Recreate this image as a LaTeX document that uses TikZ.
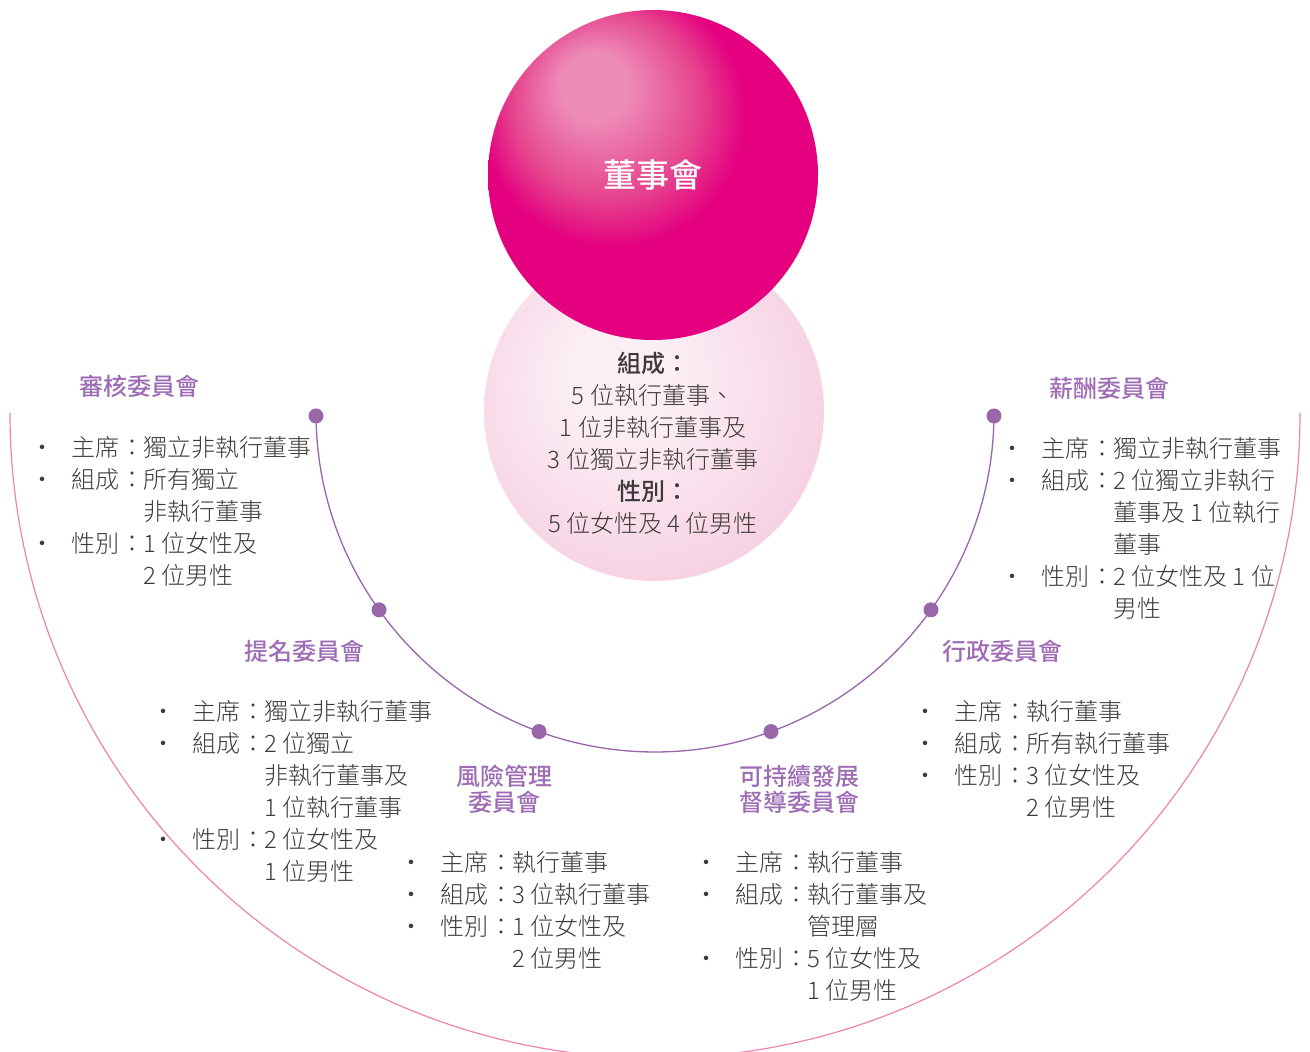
\documentclass[tikz,border=0pt]{standalone}
\usepackage{fontspec}
\setmainfont{Noto Sans CJK TC}[UprightFont=* Light, BoldFont=* Medium]
\usepackage{tikz}
\usetikzlibrary{positioning,shapes}
\pgfdeclarelayer{bg}
\pgfsetlayers{bg,main}

\definecolor{bodytext}{HTML}{3E3A39}
\definecolor{headpurple}{HTML}{9E6CB4}
\definecolor{dotpurple}{HTML}{9966AA}
\definecolor{pinkring}{HTML}{EE82B0}
\definecolor{ballhi}{HTML}{EE8CB9}
\definecolor{ballsoft}{HTML}{E6468F}
\definecolor{ballmid}{HTML}{E4007F}
\definecolor{balldark}{HTML}{A8006C}
\definecolor{pinklight}{HTML}{FCEEF5}
\definecolor{pinkedge}{HTML}{F6CFE2}

\pgfdeclareradialshading{boardball}{\pgfqpoint{-10bp}{15bp}}{%
color(0bp)=(ballhi); color(5bp)=(ballhi); color(14bp)=(ballsoft);
color(20bp)=(ballmid); color(34bp)=(ballmid); color(44bp)=(balldark);
color(50bp)=(balldark)}
\pgfdeclareradialshading{softpink}{\pgfqpoint{-6bp}{6bp}}{%
color(0bp)=(pinklight); color(8bp)=(pinklight); color(30bp)=(pinkedge);
color(50bp)=(pinkedge)}

\newcommand{\bul}{\makebox[14.5pt][l]{\makebox[0pt]{•}}}
\newcommand{\lab}[1]{\makebox[36pt][l]{#1\hspace{0.6pt}：}}

\begin{document}
\begin{tikzpicture}[x=0.5pt,y=0.5pt]
\tikzstyle{every node}=[font=\fontsize{12}{16}\selectfont, text=bodytext, inner sep=0pt]
\tikzstyle{heading}=[font=\fontsize{12}{13}\selectfont\bfseries, text=headpurple, align=center]
\tikzstyle{facts}=[anchor=base west, align=left]
\tikzstyle{dot}=[circle, fill=dotpurple, minimum size=7.5pt]

\useasboundingbox (0,0) rectangle (1310,-1052);

\coordinate (centre) at (655,-413);

% outer ring
\draw[pinkring, line width=0.6pt] ([shift={(180:322.5pt)}]centre)
  arc[start angle=180, end angle=360, radius=322.5pt];

% board of directors
\node[circle, minimum size=170pt, shade, shading=softpink] (backdrop) at (654,-411) {};
\node[circle, minimum size=165pt, shade, shading=boardball, text=white,
font=\fontsize{16.5}{20}\selectfont\bfseries] (board) at (653,-175) {董事會};

\node[align=center] (boardinfo) at (653,-443.5) {
\textbf{組成：}\\
5 位執行董事、\\
1 位非執行董事及\\
3 位獨立非執行董事\\
\textbf{性別：}\\
5 位女性及 4 位男性
};

% committees on the inner ring
\node[dot] (audit dot) at ([shift={(180.5:169.5pt)}]centre) {};
\node[dot] (nomination dot) at ([shift={(215.5:169.5pt)}]centre) {};
\node[dot] (risk dot) at ([shift={(250:169.5pt)}]centre) {};
\node[dot] (sustain dot) at ([shift={(290:169.5pt)}]centre) {};
\node[dot] (executive dot) at ([shift={(324.5:169.5pt)}]centre) {};
\node[dot] (remuneration dot) at ([shift={(359.5:169.5pt)}]centre) {};

\begin{pgfonlayer}{bg}
\draw[dotpurple, line width=0.65pt] (audit dot.center)
  arc[start angle=180.5, end angle=359.5, radius=169.5pt];
\end{pgfonlayer}

\node[heading] (audit) at (139.5,-386) {審核委員會};
\node[facts] (audit facts) at (42,-457) {\begin{tabular}[t]{@{}l@{}l@{}l@{}}
\bul & \lab{主席} & 獨立非執行董事\\
\bul & \lab{組成} & 所有獨立\\
 & & 非執行董事\\
\bul & \lab{性別} & 1 位女性及\\
 & & 2 位男性
\end{tabular}};

\node[heading] (remuneration) at (1109,-388) {薪酬委員會};
\node[facts] (remuneration facts) at (1012,-458) {\begin{tabular}[t]{@{}l@{}l@{}l@{}}
\bul & \lab{主席} & 獨立非執行董事\\
\bul & \lab{組成} & 2 位獨立非執行\\
 & & 董事及 1 位執行\\
 & & 董事\\
\bul & \lab{性別} & 2 位女性及 1 位\\
 & & 男性
\end{tabular}};

\node[heading] (nomination) at (304,-651) {提名委員會};
\node[facts] (nomination facts) at (163,-720) {\begin{tabular}[t]{@{}l@{}l@{}l@{}}
\bul & \lab{主席} & 獨立非執行董事\\
\bul & \lab{組成} & 2 位獨立\\
 & & 非執行董事及\\
 & & 1 位執行董事\\
\bul & \lab{性別} & 2 位女性及\\
 & & 1 位男性
\end{tabular}};

\node[heading] (executive) at (1002,-651) {行政委員會};
\node[facts] (executive facts) at (925,-720) {\begin{tabular}[t]{@{}l@{}l@{}l@{}}
\bul & \lab{主席} & 執行董事\\
\bul & \lab{組成} & 所有執行董事\\
\bul & \lab{性別} & 3 位女性及\\
 & & 2 位男性
\end{tabular}};

\node[heading] (risk) at (504,-789) {風險管理\\委員會};
\node[facts] (risk facts) at (411,-871) {\begin{tabular}[t]{@{}l@{}l@{}l@{}}
\bul & \lab{主席} & 執行董事\\
\bul & \lab{組成} & 3 位執行董事\\
\bul & \lab{性別} & 1 位女性及\\
 & & 2 位男性
\end{tabular}};

\node[heading] (sustain) at (799,-789) {可持續發展\\督導委員會};
\node[facts] (sustain facts) at (706,-871) {\begin{tabular}[t]{@{}l@{}l@{}l@{}}
\bul & \lab{主席} & 執行董事\\
\bul & \lab{組成} & 執行董事及\\
 & & 管理層\\
\bul & \lab{性別} & 5 位女性及\\
 & & 1 位男性
\end{tabular}};

\end{tikzpicture}
\end{document}
